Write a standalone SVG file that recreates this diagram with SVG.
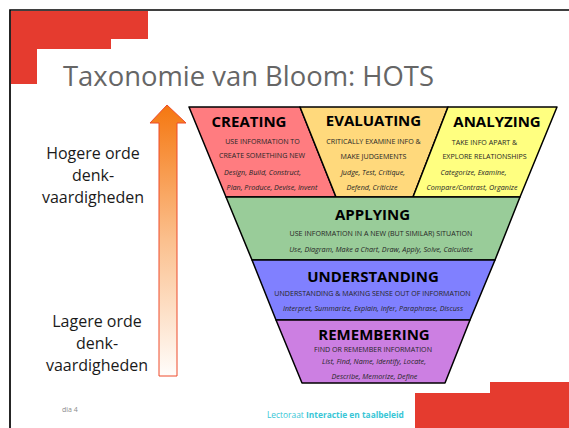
<svg xmlns="http://www.w3.org/2000/svg" width="569" height="428" viewBox="0 0 569 428">
<defs>
<style>
.t{font-family:"Open Sans","Liberation Sans",sans-serif;}
.h{font-family:"Open Sans","Liberation Sans",sans-serif;font-weight:bold;font-size:15px;fill:#000;text-anchor:middle;}
.c{font-family:"Open Sans","Liberation Sans",sans-serif;font-size:7.1px;fill:#262626;text-anchor:middle;}
.i{font-family:"Open Sans","Liberation Sans",sans-serif;font-style:italic;font-size:7.2px;fill:#262626;text-anchor:middle;}
.side{font-family:"Open Sans","Liberation Sans",sans-serif;font-size:16px;fill:#1a1a1a;text-anchor:middle;}
.band{stroke:#000;stroke-width:1.5;stroke-linejoin:round;}
.red{fill:#E53B2F;}
</style>
<linearGradient id="ag" x1="0" y1="0" x2="0" y2="1">
<stop offset="0" stop-color="#F57710"/>
<stop offset="0.5" stop-color="#FBC08E"/>
<stop offset="1" stop-color="#FFFDFB"/>
</linearGradient>
</defs>
<rect x="0" y="0" width="569" height="428" fill="#fff"/>
<!-- frame -->
<path d="M10 428 V10 H569" fill="none" stroke="#000" stroke-width="1.7"/>
<!-- decorative red blocks -->
<path class="red" d="M11 11 H148 V39 H111 V49 H37 V84 H11 Z"/>
<path class="red" d="M415 428 V393 H490 V382 H569 V428 Z"/>
<!-- title -->
<text class="t" x="63" y="86" font-size="28" fill="#666" textLength="371" lengthAdjust="spacingAndGlyphs">Taxonomie van Bloom: HOTS</text>

<!-- side labels -->
<g id="hogere">
<text class="side" x="93" y="159">Hogere orde</text>
<text class="side" x="93" y="181">denk-</text>
<text class="side" x="93" y="203">vaardigheden</text>
</g>
<g id="lagere">
<text class="side" x="97" y="327">Lagere orde</text>
<text class="side" x="97" y="349">denk-</text>
<text class="side" x="97" y="371">vaardigheden</text>
</g>

<g id="connectors">
<path id="arrow" d="M167 105 L186 123 H177 V376 H159 V123 H150 Z" fill="url(#ag)" stroke="#EE4A2A" stroke-width="1"/>
</g>

<g id="creating">
<polygon class="band" points="189,107 300,107 336,197 226,197" fill="#FF7C80"/>
<text class="h" x="249" y="127">CREATING</text>
<text class="c" x="262.5" y="143.5">USE INFORMATION TO</text>
<text class="c" x="262" y="158">CREATE SOMETHING NEW</text>
<text class="i" x="262.5" y="174.5">Design, Build, Construct,</text>
<text class="i" x="272" y="190">Plan, Produce, Devise, Invent</text>
</g>
<g id="evaluating">
<polygon class="band" points="300,107 448,107 413,197 336,197" fill="#FFD97C"/>
<text class="h" x="373.5" y="125.5">EVALUATING</text>
<text class="c" x="373.5" y="144">CRITICALLY EXAMINE INFO &amp;</text>
<text class="c" x="373.5" y="159">MAKE JUDGEMENTS</text>
<text class="i" x="373" y="174.5">Judge, Test, Critique,</text>
<text class="i" x="372" y="190">Defend, Criticize</text>
</g>
<g id="analyzing">
<polygon class="band" points="448,107 557,107 520,197 413,197" fill="#FFFF80"/>
<text class="h" x="497" y="126.5">ANALYZING</text>
<text class="c" x="484.5" y="145">TAKE INFO APART &amp;</text>
<text class="c" x="484.5" y="159">EXPLORE RELATIONSHIPS</text>
<text class="i" x="473.5" y="175">Categorize, Examine,</text>
<text class="i" x="472" y="190">Compare/Contrast, Organize</text>
</g>
<g id="applying">
<polygon class="band" points="226,197 520,197 495,260 252,260" fill="#99CC99"/>
<text class="h" x="372.5" y="219.5">APPLYING</text>
<text class="c" x="381" y="235.8">USE INFORMATION IN A NEW (BUT SIMILAR) SITUATION</text>
<text class="i" x="381" y="251.8">Use, Diagram, Make a Chart, Draw, Apply, Solve, Calculate</text>
</g>
<g id="understanding">
<polygon class="band" points="252,260 495,260 470,320 276,320" fill="#8080FF"/>
<text class="h" x="373" y="281.5">UNDERSTANDING</text>
<text class="c" x="372.5" y="295.5">UNDERSTANDING &amp; MAKING SENSE OUT OF INFORMATION</text>
<text class="i" x="373" y="310.5">Interpret, Summarize, Explain, Infer, Paraphrase, Discuss</text>
</g>
<g id="remembering">
<polygon class="band" points="276,320 470,320 445,383 302,383" fill="#CC7FE2"/>
<text class="h" x="374" y="340">REMEMBERING</text>
<text class="c" x="373" y="351.5">FIND OR REMEMBER INFORMATION</text>
<text class="i" x="374" y="364.2">List, Find, Name, Identify, Locate,</text>
<text class="i" x="374.5" y="378.5">Describe, Memorize, Define</text>
</g>

<!-- footer -->
<text class="t" x="62" y="412" font-size="7" fill="#8c8c8c">dia 4</text>
<text class="t" x="267" y="418" font-size="8.4" fill="#38C6D6">Lectoraat <tspan font-weight="bold">Interactie en taalbeleid</tspan></text>
</svg>
